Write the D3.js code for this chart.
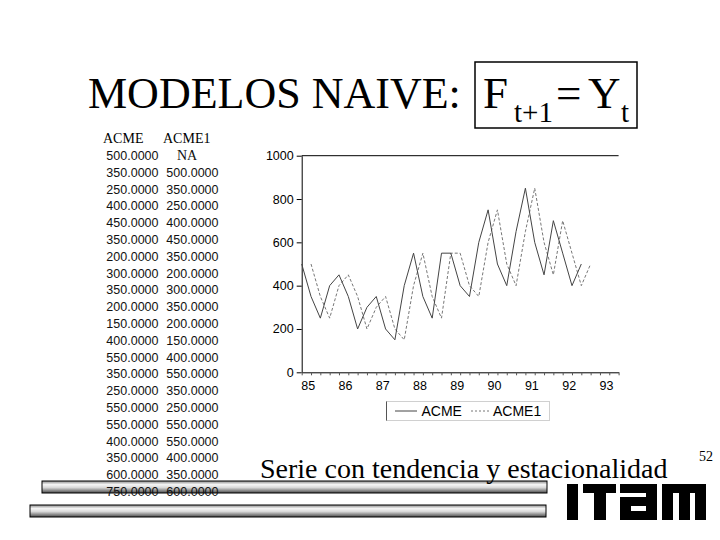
<!DOCTYPE html>
<html><head><meta charset="utf-8">
<script src="https://cdn.jsdelivr.net/npm/d3@7"></script>
<style>body{margin:0;background:#fff}svg{display:block}</style>
</head><body>
<script>
// ---- data ----
const yearLabels = ["85","86","87","88","89","90","91","92","93"];
const acme  = [500,350,250,400,450,350,200,300,350,200,150,400,550,350,250,550,550,400,350,600,750,500,400,650,850,600,450,700,550,400,500];
const acme1 = [null,500,350,250,400,450,350,200,300,350,200,150,400,550,350,250,550,550,400,350,600,750,500,400,650,850,600,450,700,550,400,500];
const yTicks = [0,200,400,600,800,1000];
const tableRows = 21;
const seriesNames = ["ACME","ACME1"];
const titleText = "MODELOS NAIVE:";
const captionText = "Serie con tendencia y estacionalidad";
const pageNumber = "52";

const W = 720, H = 540;
const svg = d3.select("body").append("svg").attr("width", W).attr("height", H);
const defs = svg.append("defs");
const grad = defs.append("linearGradient").attr("id","bar").attr("x1",0).attr("y1",0).attr("x2",0).attr("y2",1);
[[0,"#8a8a8a"],[0.3,"#f6f6f6"],[0.55,"#d8d8d8"],[1,"#4a4a4a"]].forEach(([o,c])=>grad.append("stop").attr("offset",o).attr("stop-color",c));

const serif = "'Liberation Serif','Times New Roman',serif";
const sans = "'Liberation Sans',Arial,sans-serif";

// ---- title ----
svg.append("text").attr("x",88).attr("y",108).attr("font-family",serif).attr("font-size",44).text(titleText);
svg.append("rect").attr("x",475).attr("y",62).attr("width",162).attr("height",66).attr("fill","none").attr("stroke","#000").attr("stroke-width",1.5);
const f = svg.append("g").attr("font-family",serif);
f.append("text").attr("x",483).attr("y",108).attr("font-size",45).text("F");
f.append("text").attr("x",514).attr("y",122).attr("font-size",29).text("t+1");
f.append("text").attr("x",556).attr("y",108).attr("font-size",45).text("=");
f.append("text").attr("x",588).attr("y",108).attr("font-size",45).text("Y");
f.append("text").attr("x",621).attr("y",122).attr("font-size",29).text("t");

// ---- bottom bars ----
svg.append("rect").attr("x",42).attr("y",481).attr("width",505).attr("height",12).attr("fill","url(#bar)").attr("stroke","#000");
svg.append("rect").attr("x",30).attr("y",505).attr("width",516).attr("height",12).attr("fill","url(#bar)").attr("stroke","#000");

// ---- table ----
const tbl = svg.append("g").attr("font-family",sans).attr("font-size",12.5).attr("fill","#111");
svg.append("text").attr("x",103).attr("y",143).attr("font-family",serif).attr("font-size",14).text(seriesNames[0]);
svg.append("text").attr("x",163).attr("y",143).attr("font-family",serif).attr("font-size",14).text(seriesNames[1]);
const rowY = d3.scaleLinear().domain([0,1]).range([160,176.8]);
d3.range(tableRows).forEach(i=>{
  tbl.append("text").attr("x",158.5).attr("y",rowY(i)).attr("text-anchor","end").text(acme[i].toFixed(4));
  const v = acme1[i];
  if (v==null) tbl.append("text").attr("x",187).attr("y",rowY(i)).attr("text-anchor","middle").attr("font-family",serif).attr("font-size",14).text("NA");
  else tbl.append("text").attr("x",218.5).attr("y",rowY(i)).attr("text-anchor","end").text(v.toFixed(4));
});

// ---- chart ----
const x = d3.scaleLinear().domain([0,34]).range([301.7,618.6]);
const y = d3.scaleLinear().domain([0,1000]).range([372.3,155.7]);

svg.append("line").attr("x1",x(0)).attr("x2",x(34)).attr("y1",y(1000)).attr("y2",y(1000)).attr("stroke","#000");

const ya = svg.append("g").attr("transform",`translate(${x(0)},0)`)
  .call(d3.axisLeft(y).tickValues(yTicks).tickSize(5).tickPadding(3).tickSizeOuter(0).tickFormat(d3.format("d")));
ya.selectAll("text").attr("font-family",sans).attr("font-size",12.5).attr("fill","#000");
ya.select(".domain").attr("stroke","#000");

const xa = svg.append("g").attr("transform",`translate(0,${y(0)})`)
  .call(d3.axisBottom(x).tickValues(d3.range(0,35)).tickSize(3).tickSizeOuter(0)
    .tickFormat(d => d%4===0 ? (yearLabels[d/4]||"") : ""));
xa.selectAll("text").attr("font-family",sans).attr("font-size",12.5).attr("fill","#000")
  .attr("text-anchor","start").attr("dx",-1).attr("dy","0.9em");
xa.selectAll(".tick line").attr("stroke","#555");
xa.select(".domain").attr("stroke","#000");

const line = d3.line().defined(d=>d!=null).x((d,i)=>x(i)).y(d=>y(d));
svg.append("path").datum(acme1).attr("d",line).attr("fill","none").attr("stroke","#777").attr("stroke-width",1).attr("stroke-dasharray","3,2");
svg.append("path").datum(acme).attr("d",line).attr("fill","none").attr("stroke","#444").attr("stroke-width",1);

// ---- legend ----
const lg = svg.append("g");
lg.append("rect").attr("x",386.5).attr("y",401.5).attr("width",163).attr("height",19).attr("fill","none").attr("stroke","#d0d0d0");
lg.append("line").attr("x1",386.5).attr("x2",386.5).attr("y1",401.5).attr("y2",420.5).attr("stroke","#555");
lg.append("line").attr("x1",395).attr("x2",417).attr("y1",411).attr("y2",411).attr("stroke","#444");
lg.append("text").attr("x",421.5).attr("y",416).attr("font-family",sans).attr("font-size",14).text(seriesNames[0]);
lg.append("line").attr("x1",471).attr("x2",490).attr("y1",411).attr("y2",411).attr("stroke","#777").attr("stroke-dasharray","2,2");
lg.append("text").attr("x",493).attr("y",416).attr("font-family",sans).attr("font-size",14).text(seriesNames[1]);

// ---- caption, page number ----
svg.append("text").attr("x",260).attr("y",478).attr("font-family",serif).attr("font-size",28).text(captionText);
svg.append("text").attr("x",699).attr("y",461).attr("font-family",serif).attr("font-size",14).text(pageNumber);

// ---- logo (decorative block letters) ----
const logo = svg.append("g").attr("fill","#000");
const L = (x0,y0,w,h)=>logo.append("rect").attr("x",x0).attr("y",y0).attr("width",w).attr("height",h);
const top0 = 484, bot = 520, hh = bot-top0;
L(567,top0,11,hh);                 // I
L(583,top0,33,9); L(594,top0,12,hh); // T
L(620,top0,37,9); L(646,top0,11,hh); L(620,497,37,23); // a
logo.append("rect").attr("x",631).attr("y",506).attr("width",15).attr("height",5).attr("fill","#fff");
L(662,top0,44,9); L(662,top0,11,hh); L(679,top0,11,hh); L(695,top0,11,hh); // m
</script>
</body></html>
